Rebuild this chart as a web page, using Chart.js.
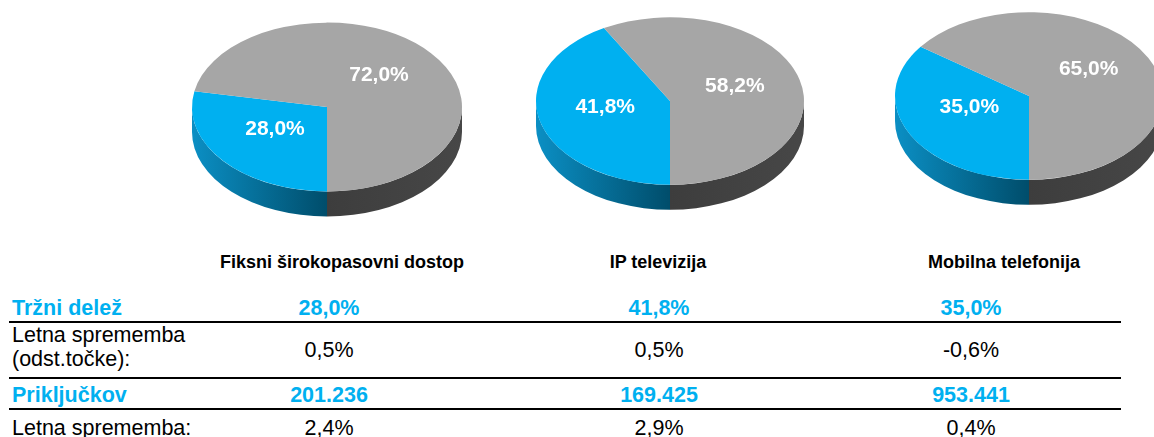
<!DOCTYPE html>
<html><head><meta charset="utf-8">
<script src="https://cdn.jsdelivr.net/npm/chart.js@4.4.1/dist/chart.umd.min.js"></script>
<style>
html,body{margin:0;padding:0;background:#fff;overflow:hidden;}
#wrap{position:relative;width:1154px;height:437px;overflow:hidden;font-family:"Liberation Sans",Arial,Helvetica,sans-serif;}
#wrap canvas{position:absolute;}
.t{position:absolute;white-space:nowrap;line-height:1;color:#000;}
.hdr{font-weight:bold;font-size:18px;transform:translateX(-50%);}
.val{font-size:21.5px;transform:translateX(-50%);}
.lbl{font-size:21.5px;left:12px;}
.blue{color:#00B0F0;font-weight:bold;}
.rule{position:absolute;left:9px;width:1112px;height:2px;background:#000;}
</style></head><body><div id="wrap"></div>
<script>
// ---- data ----
const categories = ['Fiksni širokopasovni dostop', 'IP televizija', 'Mobilna telefonija'];
const marketShare = [28.0, 41.8, 35.0];
const otherShare = [72.0, 58.2, 65.0];
const shareChange = [0.5, 0.5, -0.6];
const connections = [201236, 169425, 953441];
const connectionChange = [2.4, 2.9, 0.4];
const rowLabels = ['Tržni delež', 'Letna sprememba', '(odst.točke):', 'Priključkov', 'Letna sprememba:'];

// ---- layout / style ----
const pieLayout = [
  {cx: 327, cy: 107, r: 135, labelDy: -5},
  {cx: 670, cy: 101, r: 134, labelDy: -4},
  {cx: 1029, cy: 96, r: 134, labelDy: -8}
];
const headerX = [342, 658, 1004];
const valueX = [329, 659, 971];
const CAN = 290;
const RATIO = 0.625, DEPTH = 25;
const BLUE = '#00B0F0', GRAY = '#A6A6A6';

const pct = v => v.toFixed(1).replace('.', ',') + '%';
const thousands = n => String(n).replace(/\B(?=(\d{3})+(?!\d))/g, '.');

const wrap = document.getElementById('wrap');

const pie3d = {
  id: 'pie3d',
  beforeDatasetsDraw(chart) {
    const ctx = chart.ctx;
    const meta = chart.getDatasetMeta(0);
    const a0 = meta.data[0];
    const cx = a0.x, cy = a0.y, r = a0.outerRadius, ry = r * RATIO;
    meta.data.forEach((arc, i) => {
      const s = arc.startAngle, e = arc.endAngle;
      for (let n = -1; n <= 2; n++) {
        const lo = Math.max(s, n * 2 * Math.PI), hi = Math.min(e, n * 2 * Math.PI + Math.PI);
        if (hi > lo) {
          ctx.beginPath();
          ctx.ellipse(cx, cy, r, ry, 0, lo, hi);
          ctx.ellipse(cx, cy + DEPTH, r, ry, 0, hi, lo, true);
          ctx.closePath();
          if (i === 0) {
            const g = ctx.createLinearGradient(cx - r, 0, cx, 0);
            g.addColorStop(0, '#0b8fc4');
            g.addColorStop(1, '#004d6b');
            ctx.fillStyle = g;
          } else {
            const g = ctx.createLinearGradient(cx, 0, cx + r, 0);
            g.addColorStop(0, '#3d3d3d');
            g.addColorStop(1, '#474747');
            ctx.fillStyle = g;
          }
          ctx.fill();
        }
      }
    });
    ctx.save();
    ctx.translate(cx, cy);
    ctx.scale(1, RATIO);
    ctx.translate(-cx, -cy);
  },
  afterDatasetsDraw(chart, args, opts) {
    const ctx = chart.ctx;
    ctx.restore();
    const meta = chart.getDatasetMeta(0);
    const vals = chart.data.datasets[0].data;
    ctx.save();
    ctx.font = 'bold 21px "Liberation Sans", Arial, sans-serif';
    ctx.fillStyle = '#fff';
    ctx.textAlign = 'center';
    ctx.textBaseline = 'middle';
    meta.data.forEach((arc, i) => {
      const mid = (arc.startAngle + arc.endAngle) / 2;
      const f = 0.5;
      const x = arc.x + Math.cos(mid) * arc.outerRadius * f;
      const y = arc.y + Math.sin(mid) * arc.outerRadius * RATIO * f + opts.labelDy;
      ctx.fillText(pct(vals[i]), x, y);
    });
    ctx.restore();
  }
};

categories.forEach((cat, i) => {
  const L = pieLayout[i];
  const c = document.createElement('canvas');
  c.width = CAN; c.height = CAN;
  c.style.width = CAN + 'px'; c.style.height = CAN + 'px';
  c.style.left = (L.cx - CAN / 2) + 'px';
  c.style.top = (L.cy - CAN / 2) + 'px';
  wrap.appendChild(c);
  new Chart(c, {
    type: 'pie',
    data: {
      labels: ['Tržni delež', 'Ostali'],
      datasets: [{
        data: [marketShare[i], otherShare[i]],
        backgroundColor: [BLUE, GRAY],
        borderWidth: 0,
        radius: L.r,
        clip: false
      }]
    },
    options: {
      responsive: false,
      devicePixelRatio: 1,
      animation: false,
      events: [],
      rotation: 180,
      layout: {padding: 0},
      plugins: {
        legend: {display: false},
        tooltip: {enabled: false},
        title: {display: false},
        pie3d: {labelDy: L.labelDy}
      }
    },
    plugins: [pie3d]
  });
});

function addText(cls, text, left, top) {
  const d = document.createElement('div');
  d.className = 't ' + cls;
  d.textContent = text;
  d.style.left = left + 'px';
  d.style.top = top + 'px';
  wrap.appendChild(d);
}
function addRule(top) {
  const d = document.createElement('div');
  d.className = 'rule';
  d.style.top = top + 'px';
  wrap.appendChild(d);
}

// headers
categories.forEach((cat, i) => addText('hdr', cat, headerX[i], 253));

// row labels
addText('lbl blue', rowLabels[0], 12, 298.3);
addText('lbl', rowLabels[1], 12, 325.1);
addText('lbl', rowLabels[2], 12, 348.6);
addText('lbl blue', rowLabels[3], 12, 384.8);
addText('lbl', rowLabels[4], 12, 418.1);

// values
categories.forEach((cat, i) => {
  addText('val blue', pct(marketShare[i]), valueX[i], 298.3);
  addText('val', pct(shareChange[i]), valueX[i], 340.1);
  addText('val blue', thousands(connections[i]), valueX[i], 384.8);
  addText('val', pct(connectionChange[i]), valueX[i], 418.1);
});

addRule(321);
addRule(377);
addRule(408);
</script>
</body></html>
